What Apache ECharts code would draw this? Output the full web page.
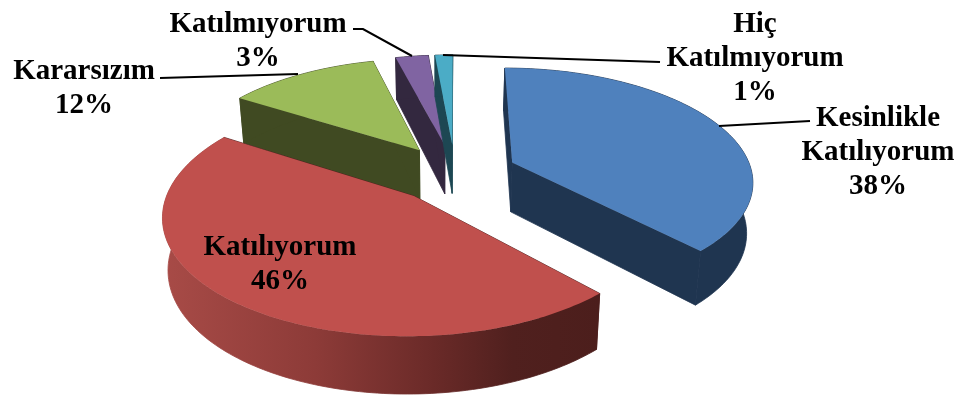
<!DOCTYPE html>
<html><head><meta charset="utf-8">
<style>html,body{margin:0;padding:0;background:#fff}#c{width:966px;height:395px}</style>
<script src="https://cdn.jsdelivr.net/npm/echarts@6/dist/echarts.min.js"></script>
</head><body><div id="c"></div>
<script>
var categories = ['Kesinlikle\nKatılıyorum','Katılıyorum','Kararsızım','Katılmıyorum','Hiç\nKatılmıyorum'];
var values = [38, 46, 12, 2.6, 1.4];
var topColors = ['#4f81bd','#c0504d','#9bbb59','#8064a2','#4bacc6'];
var wallColors = ['#1f3550','#50201e','#404a22','#33283f','#1d4753'];
var paintOrder = [2,3,4,0,1];
var labelAt = [[878,119],[280,248],[84,72],[258,25],[755,25]];
var leaders = [
  [[719,126],[810,121]],
  null,
  [[160,78],[298,74]],
  [[353,29],[363,29],[412,56]],
  [[443,55],[660,62]]
];
var CX=455, CY=173, A=240, B=111.5, K=0.15, EXPL=0.26, START=0, D0=50, D1=6.5;
var total = values.reduce(function(a,b){return a+b;},0);
function project(u,v,z){
  var w=1-K*v, x=CX+A*u/w, y=CY+B*v/w;
  if(z){ x=440+(x-440)*0.98; y+=D0+D1*v; }
  return [x,y];
}
function renderItem(params, api){
  var i=params.dataIndex, val=api.value(0), acc=0;
  for(var j=0;j<i;j++) acc+=values[j];
  var a0=(START+acc/total*360)*Math.PI/180, a1=a0+val/total*2*Math.PI, mid=(a0+a1)/2;
  var ou=EXPL*Math.sin(mid), ov=-EXPL*Math.cos(mid);
  var n=Math.max(4,Math.round(val*3)), arc=[];
  for(var s=0;s<=n;s++){ var t=a0+(a1-a0)*s/n; arc.push([ou+Math.sin(t),ov-Math.cos(t)]); }
  function pts(list,z){return list.map(function(p){return project(p[0],p[1],z);});}
  var topArc=pts(arc,0), botArc=pts(arc,1);
  var apexTop=project(ou,ov,0), apexBot=project(ou,ov,1);
  var wall=wallColors[i], outerFill=wall;
  if(i===1) outerFill={type:'linear',x:0,y:0,x2:1,y2:0,colorStops:[
    {offset:0,color:'#a84b47'},{offset:0.35,color:'#8d3b38'},{offset:0.62,color:'#6a2a28'},{offset:0.8,color:'#50201e'},{offset:1,color:'#4c1e1c'}]};
  var rank=paintOrder.indexOf(i)*10;
  function poly(p,fill,z2,stroke){return {type:'polygon',z2:rank+z2,shape:{points:p},style:{fill:fill,stroke:stroke||null,lineWidth:stroke?0.8:0}};}
  var kids=[
    poly([apexTop,topArc[0],botArc[0],apexBot],wall,1,wall),
    poly([apexTop,topArc[n],botArc[n],apexBot],wall,1,wall),
    poly(topArc.concat(botArc.slice().reverse()),outerFill,2,outerFill),
    poly([apexTop].concat(topArc),topColors[i],3)
  ];
  var pct=Math.round(val/total*100)+'%';
  kids.push({type:'text',z2:200,style:{text:categories[i]+'\n'+pct,x:labelAt[i][0],y:labelAt[i][1]-17,
    fill:'#000',font:'bold 29px "Liberation Serif"',lineHeight:34,align:'center',verticalAlign:'top'}});
  if(leaders[i]) kids.push({type:'polyline',z2:150,shape:{points:leaders[i]},style:{stroke:'#000',lineWidth:2,fill:null}});
  return {type:'group',children:kids};
}
var chart=echarts.init(document.getElementById('c'));
chart.setOption({animation:false,series:[{type:'custom',coordinateSystem:'none',renderItem:renderItem,data:values}]});
</script></body></html>
